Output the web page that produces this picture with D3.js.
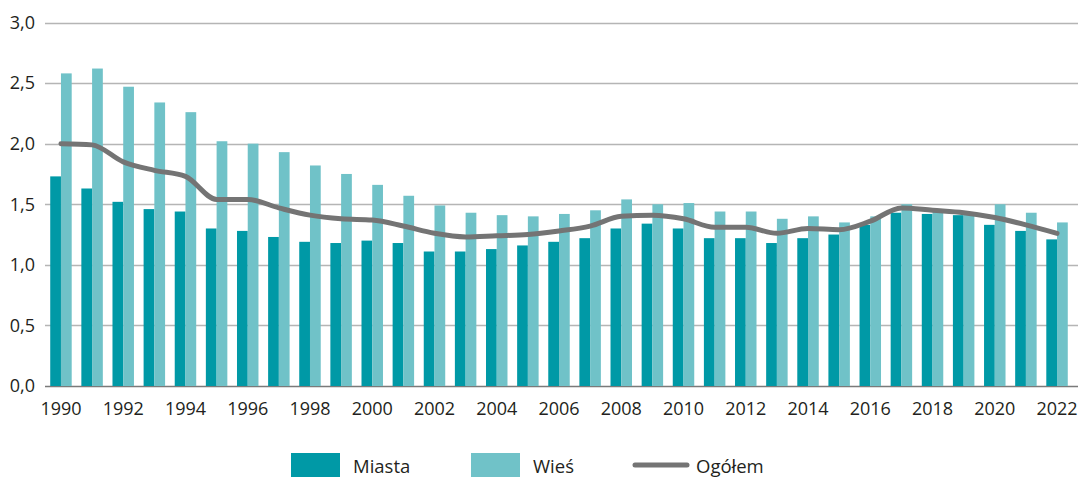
<!DOCTYPE html>
<html>
<head>
<meta charset="utf-8">
<script src="https://cdn.jsdelivr.net/npm/d3@7"></script>
<style>
  body { margin: 0; background: #fff; }
  svg text { font-family: "Open Sans", "Noto Sans", sans-serif; fill: #231f20; }
</style>
</head>
<body>
<div id="chart"></div>
<script>
// years on the x axis
const years = d3.range(1990, 2023);

// Miasta (towns)
const miasta = [1.73, 1.63, 1.52, 1.46, 1.44, 1.30, 1.28, 1.23, 1.19, 1.18,
  1.20, 1.18, 1.11, 1.11, 1.13, 1.16, 1.19, 1.22, 1.30, 1.34,
  1.30, 1.22, 1.22, 1.18, 1.22, 1.25, 1.33, 1.43, 1.42, 1.41,
  1.33, 1.28, 1.21];

// Wieś (countryside)
const wies = [2.58, 2.62, 2.47, 2.34, 2.26, 2.02, 2.00, 1.93, 1.82, 1.75,
  1.66, 1.57, 1.49, 1.43, 1.41, 1.40, 1.42, 1.45, 1.54, 1.50,
  1.51, 1.44, 1.44, 1.38, 1.40, 1.35, 1.40, 1.50, 1.44, 1.42,
  1.50, 1.43, 1.35];

// Ogółem (total)
const ogolem = [2.00, 1.99, 1.85, 1.78, 1.73, 1.54, 1.54, 1.47, 1.41, 1.38,
  1.37, 1.32, 1.26, 1.23, 1.24, 1.25, 1.28, 1.32, 1.40, 1.41,
  1.38, 1.31, 1.31, 1.26, 1.30, 1.29, 1.36, 1.47, 1.45, 1.43,
  1.39, 1.33, 1.26];

const yTicks = [0, 0.5, 1.0, 1.5, 2.0, 2.5, 3.0];
const xTickYears = years.filter(y => y % 2 === 0);

const seriesNames = ["Miasta", "Wieś", "Ogółem"];
const colors = {Miasta: "#0099a6", "Wieś": "#70c2c8", "Ogółem": "#747474"};

// chart size
const W = 1081, H = 477;
const plot = {left: 45, right: 1078, top: 22, bottom: 386};

const svg = d3.select("#chart")
  .append("svg")
    .attr("width", W)
    .attr("height", H);

// x scale for year groups, inner scale for the two bars
const x = d3.scaleBand()
  .domain(years)
  .range([45.4, 1072.6])
  .paddingInner(0.31)
  .paddingOuter(0.155);

const xInner = d3.scaleBand()
  .domain(["Miasta", "Wieś"])
  .range([0, x.bandwidth()]);

const y = d3.scaleLinear()
  .domain([0, 3])
  .range([plot.bottom, plot.top + 0.5]);

const pl = d3.formatLocale({decimal: ",", thousands: " ", grouping: [3], currency: ["", " zł"]});
const fmt = pl.format(".1f");

// gridlines
svg.append("g")
  .selectAll("line")
  .data(yTicks)
  .join("line")
    .attr("x1", plot.left)
    .attr("x2", plot.right)
    .attr("y1", d => Math.round(y(d)) + 0.5)
    .attr("y2", d => Math.round(y(d)) + 0.5)
    .attr("stroke", d => d === 0 ? "#7a7a7a" : "#b5b5b5")
    .attr("stroke-width", d => d === 0 ? 1.6 : 1.3);

// y axis labels
const yAxis = svg.append("g")
  .attr("transform", `translate(${plot.left},0)`)
  .call(d3.axisLeft(y).tickValues(yTicks).tickFormat(fmt).tickSize(0).tickPadding(10));
yAxis.select(".domain").remove();
yAxis.selectAll("text").style("font-size", "18px").attr("fill", "#231f20");

// x axis labels
const xAxis = svg.append("g")
  .attr("transform", `translate(0,${plot.bottom})`)
  .call(d3.axisBottom(x).tickValues(xTickYears).tickSize(0).tickPadding(16));
xAxis.select(".domain").remove();
xAxis.selectAll("text").style("font-size", "18px").attr("fill", "#231f20");

// bars
const barData = [];
years.forEach((yr, i) => {
  barData.push({year: yr, key: "Miasta", value: miasta[i]});
  barData.push({year: yr, key: "Wieś", value: wies[i]});
});

svg.append("g")
  .selectAll("rect")
  .data(barData)
  .join("rect")
    .attr("x", d => x(d.year) + xInner(d.key))
    .attr("y", d => y(d.value))
    .attr("width", xInner.bandwidth())
    .attr("height", d => y(0) - y(d.value))
    .attr("fill", d => colors[d.key]);

// total line
const line = d3.line()
  .x((d, i) => x(years[i]) + x.bandwidth() / 2)
  .y(d => y(d))
  .curve(d3.curveMonotoneX);

svg.append("path")
  .datum(ogolem)
  .attr("d", line)
  .attr("fill", "none")
  .attr("stroke", colors["Ogółem"])
  .attr("stroke-width", 5)
  .attr("stroke-linecap", "round")
  .attr("stroke-linejoin", "round");

// legend
const legend = svg.append("g");
const legendX = [291, 471, 635];

seriesNames.forEach((name, i) => {
  const g = legend.append("g").attr("transform", `translate(${legendX[i]},0)`);
  if (name === "Ogółem") {
    g.append("line")
      .attr("x1", 0).attr("x2", 52)
      .attr("y1", 465).attr("y2", 465)
      .attr("stroke", colors[name])
      .attr("stroke-width", 5)
      .attr("stroke-linecap", "round");
    g.append("text")
      .attr("x", 61).attr("y", 473)
      .style("font-size", "18.5px")
      .text(name);
  } else {
    g.append("rect")
      .attr("x", 0).attr("y", 453)
      .attr("width", 49).attr("height", 24)
      .attr("fill", colors[name]);
    g.append("text")
      .attr("x", 62).attr("y", 473)
      .style("font-size", "18.5px")
      .text(name);
  }
});
</script>
</body>
</html>
